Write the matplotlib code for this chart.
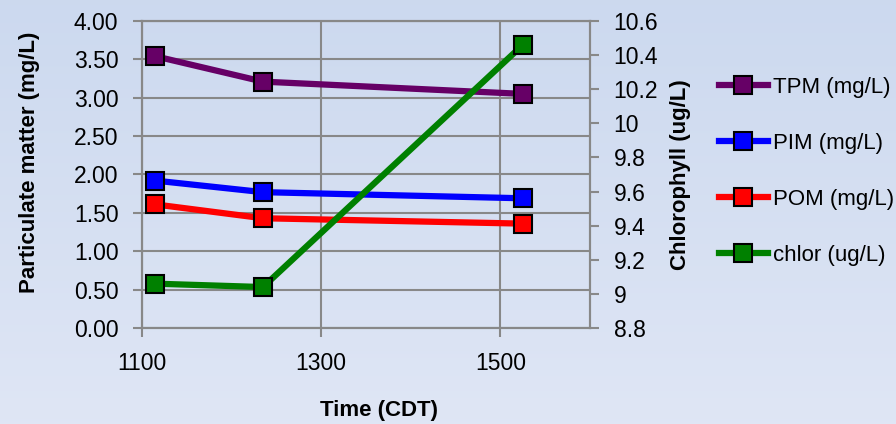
import numpy as np
import matplotlib
matplotlib.use("Agg")
import matplotlib.pyplot as plt
from matplotlib.ticker import FuncFormatter, MultipleLocator, FixedLocator

plt.rcParams['font.family'] = ['Liberation Sans', 'DejaVu Sans']

# sample times (CDT) and measurements
times = [1115, 1235, 1525]
tpm = [3.54, 3.21, 3.05]
pim = [1.92, 1.77, 1.69]
pom = [1.61, 1.43, 1.36]
chlor = [9.06, 9.04, 10.46]
xticks = [1100, 1300, 1500]

grid_col = '#888888'
tick_fs = 16.5
label_fs = 16

fig = plt.figure(figsize=(8.96, 4.24), dpi=100)

# soft blue background gradient
bg = fig.add_axes([0, 0, 1, 1], zorder=-10)
grad = np.linspace(0, 1, 256).reshape(-1, 1)
top = np.array([0.800, 0.851, 0.937])
bot = np.array([0.875, 0.902, 0.961])
img = top + (bot - top) * grad[:, :, None]
bg.imshow(img, aspect='auto', extent=[0, 1, 0, 1])
bg.axis('off')

ax = fig.add_axes([0.1585, 0.2264, 0.5, 0.7241])
ax.set_facecolor('none')

ax.plot(times, tpm, color='#660066', lw=4.5, marker='s', ms=12.5,
        mec='black', mew=1.5, label='TPM (mg/L)', zorder=3)
ax.plot(times, pim, color='#0000ff', lw=4.5, marker='s', ms=12.5,
        mec='black', mew=1.5, label='PIM (mg/L)', zorder=3)
ax.plot(times, pom, color='#ff0000', lw=4.5, marker='s', ms=12.5,
        mec='black', mew=1.5, label='POM (mg/L)', zorder=3)

ax.set_xlim(1100, 1600)
ax.set_ylim(0, 4)
ax.xaxis.set_major_locator(FixedLocator(xticks))
ax.yaxis.set_major_locator(MultipleLocator(0.5))
ax.yaxis.set_major_formatter(FuncFormatter(lambda v, p: f"{v:.2f}"))
ax.grid(True, color=grid_col, lw=1.5)
ax.set_axisbelow(True)
for s in ax.spines.values():
    s.set_color(grid_col)
    s.set_linewidth(1.5)
ax.tick_params(axis='both', length=6.5, width=1.5, color=grid_col,
               labelsize=tick_fs, pad=10.5)
ax.set_ylabel('Particulate matter (mg/L)', fontsize=label_fs, fontweight='bold')
ax.yaxis.set_label_coords(-0.228, 0.54)
ax.set_xlabel('Time (CDT)', fontsize=label_fs, fontweight='bold')
ax.xaxis.set_label_coords(0.53, -0.235)

ax2 = ax.twinx()
ax2.plot(times, chlor, color='#008000', lw=4.5, marker='s', ms=12.5,
         mec='black', mew=1.5, label='chlor (ug/L)', zorder=3)
ax2.set_ylim(8.8, 10.6)
ax2.yaxis.set_major_locator(MultipleLocator(0.2))
ax2.yaxis.set_major_formatter(FuncFormatter(lambda v, p: f"{round(v, 1):g}"))
for s in ax2.spines.values():
    s.set_color(grid_col)
    s.set_linewidth(1.5)
ax2.tick_params(axis='y', length=6.5, width=1.5, color=grid_col,
                labelsize=tick_fs, pad=10.5)
ax2.set_ylabel('Chlorophyll (ug/L)', fontsize=label_fs, fontweight='bold')
ax2.yaxis.set_label_coords(1.178, 0.5)

handles = ax.get_lines() + ax2.get_lines()
fig.legend(handles, [h.get_label() for h in handles], loc='upper left',
           bbox_to_anchor=(0.8025, 0.819), frameon=False, fontsize=label_fs,
           handlelength=2.2, handletextpad=0.25, labelspacing=1.58,
           borderaxespad=0, borderpad=0)

fig.savefig('out.png', dpi=100)
